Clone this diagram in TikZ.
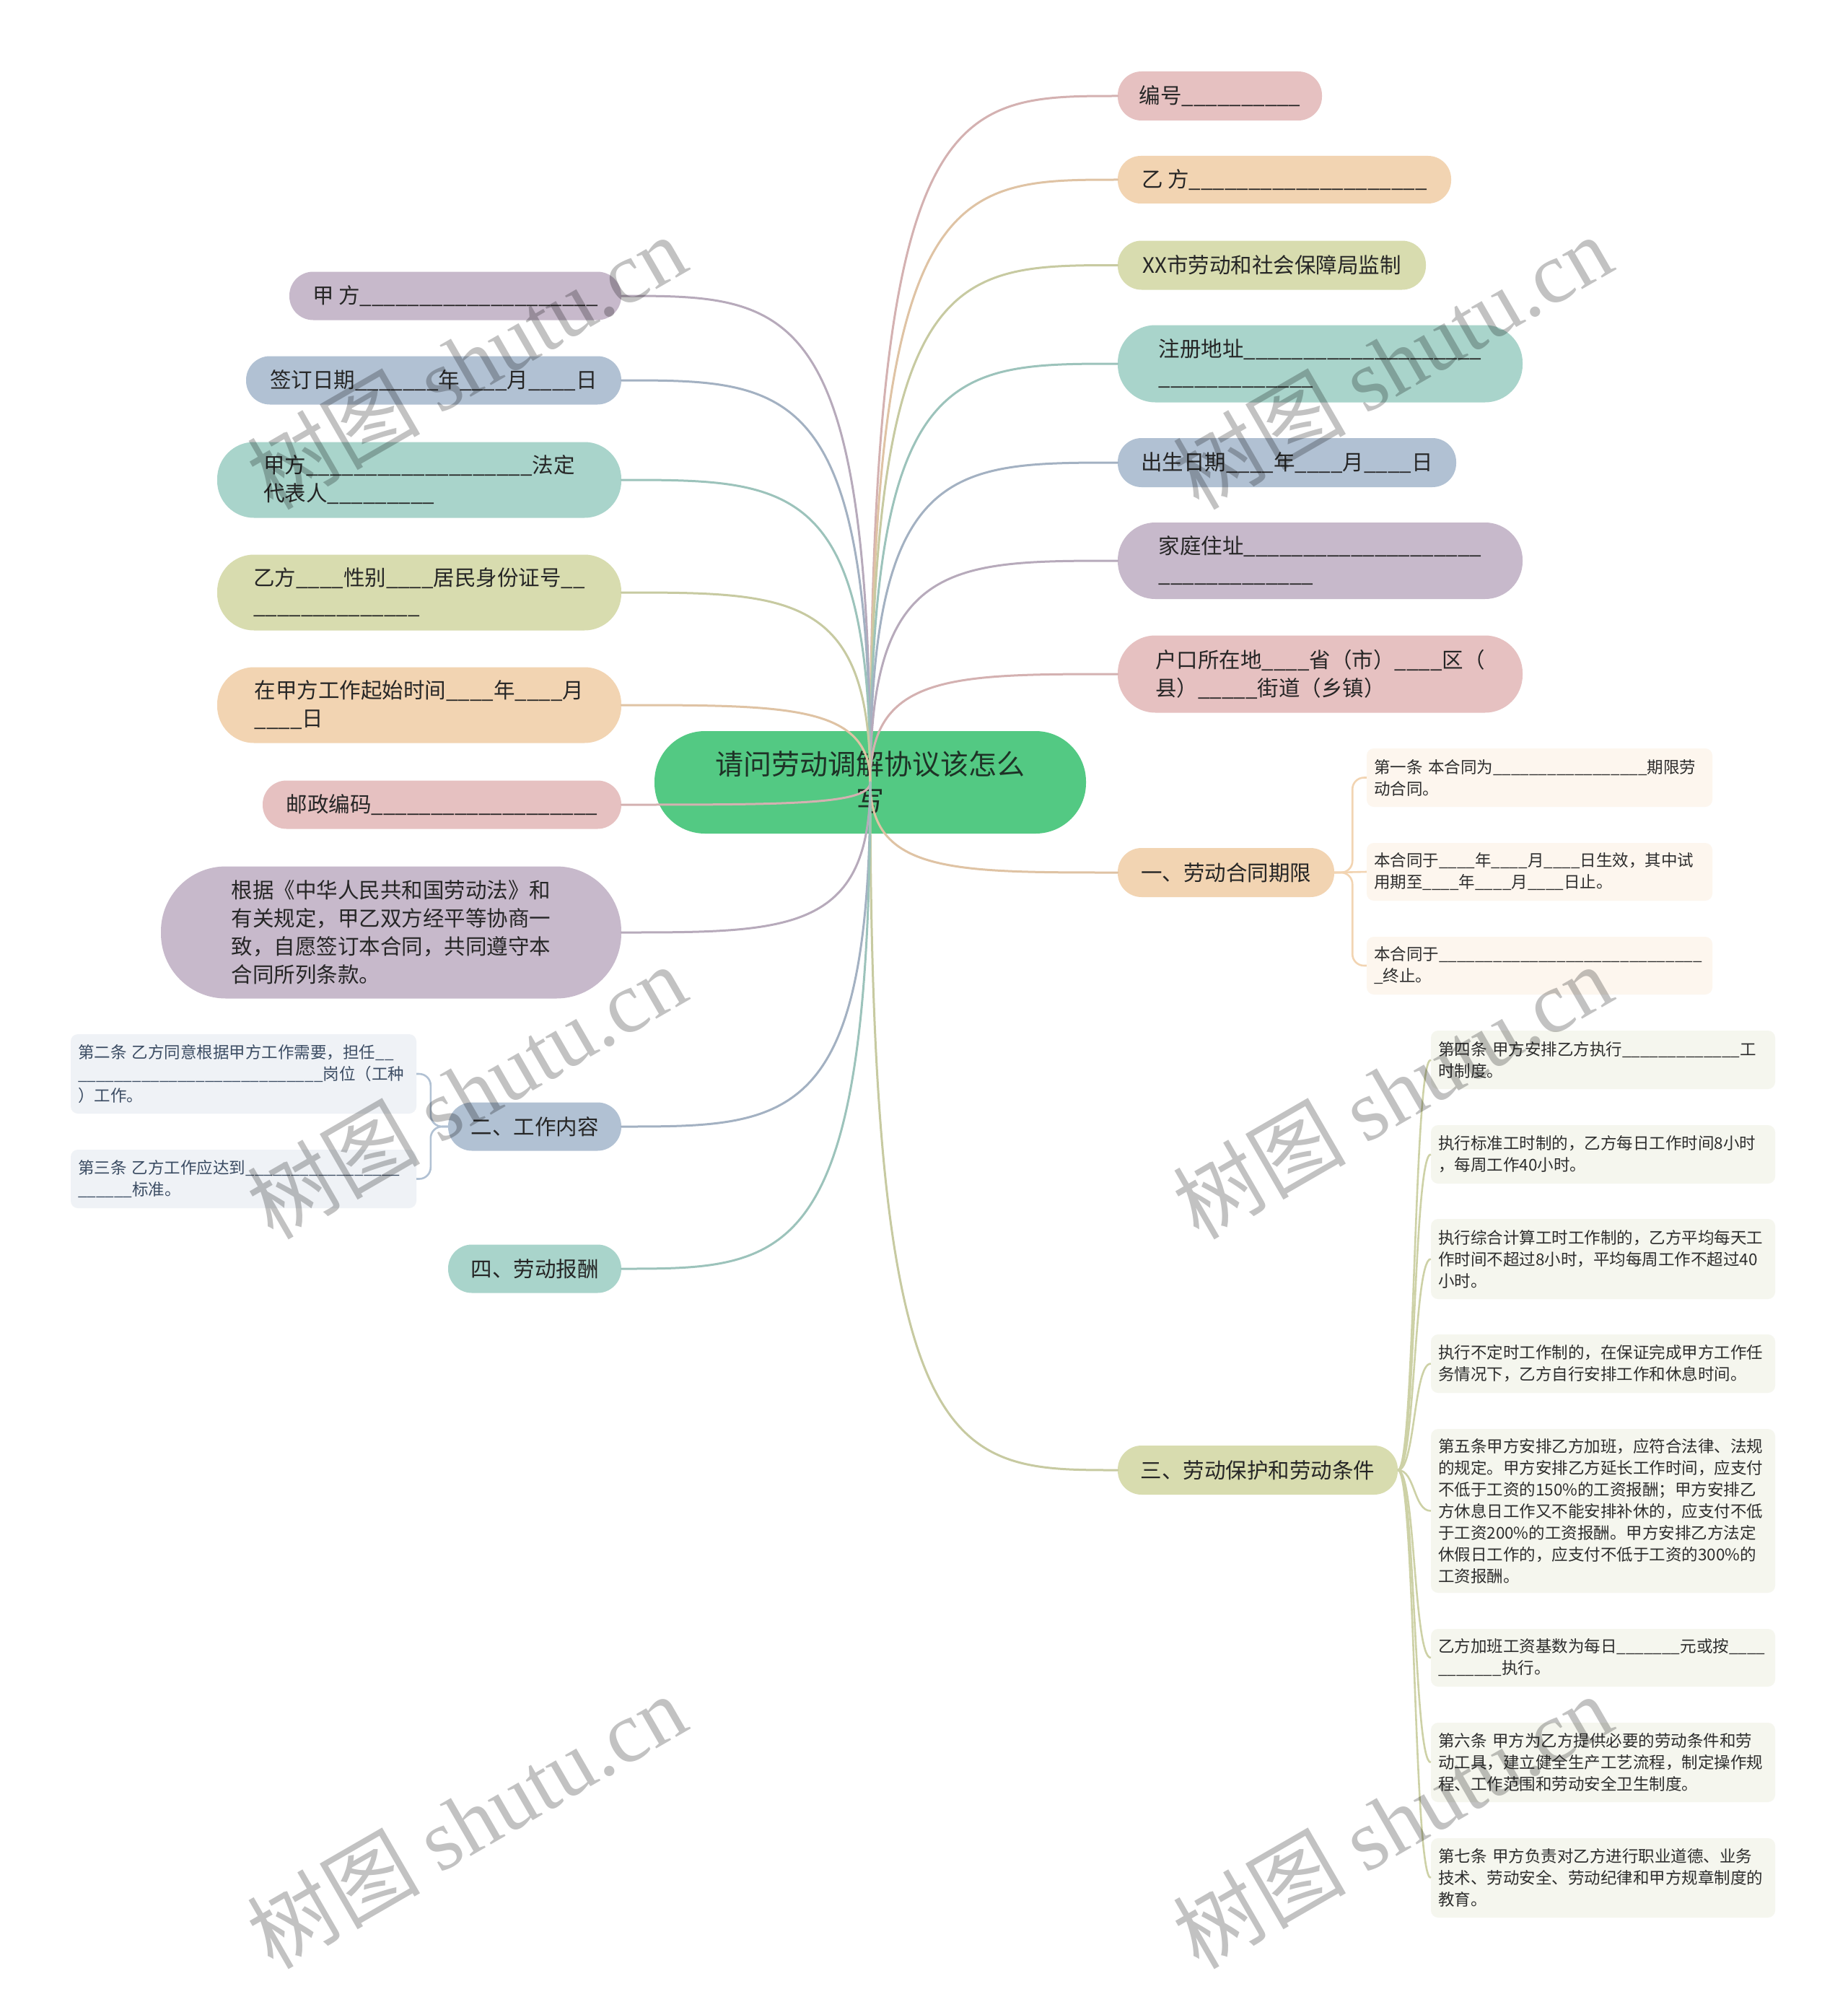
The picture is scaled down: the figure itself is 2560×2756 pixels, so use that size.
\documentclass[tikz,border=0pt]{standalone}
\usepackage{fontspec}
\setmainfont{Noto Sans CJK SC}
\newfontfamily\wmlatin{Liberation Serif}
\usetikzlibrary{calc}

\definecolor{cRoot}{RGB}{83,201,131}
\definecolor{cPink}{RGB}{230,193,193}
\definecolor{cPeach}{RGB}{242,212,178}
\definecolor{cOlive}{RGB}{216,220,175}
\definecolor{cTeal}{RGB}{169,212,203}
\definecolor{cBlue}{RGB}{177,193,211}
\definecolor{cLav}{RGB}{199,185,203}
\definecolor{cA}{RGB}{253,246,238}
\definecolor{cB}{RGB}{239,242,246}
\definecolor{cC}{RGB}{245,246,238}
\definecolor{tDark}{RGB}{38,38,38}
\definecolor{tMid}{RGB}{45,45,45}
\definecolor{tB}{RGB}{59,76,99}
\definecolor{tRoot}{RGB}{30,50,38}

\newcommand\lvfont{\fontsize{29.5}{39}\selectfont}
\newcommand\svfont{\fontsize{22.5}{30}\selectfont}
\newcommand\rtfont{\fontsize{39}{51}\selectfont}

\tikzset{
  l1/.style n args={4}{fill=#1, minimum width=#2, minimum height=#3, rounded corners=#4,
     inner sep=0pt, align=left, text=tDark, font=\lvfont},
  l2/.style 2 args={fill=#1, minimum height=#2, text width=459, inner xsep=10, inner ysep=0,
     rounded corners=10, align=left, font=\svfont, text=tMid},
  l2w/.style 2 args={fill=#1, minimum height=#2, text width=457, inner xsep=10, inner ysep=0,
     rounded corners=10, align=left, font=\svfont, text=tMid},
  rootbox/.style={fill=cRoot, minimum width=598, minimum height=142, rounded corners=70,
     inner sep=0pt, align=center, text=tRoot, font=\rtfont},
  conn/.style={line width=3, line cap=round},
  brk/.style={line width=2.6, rounded corners=16},
  scurve/.style={line width=2.6},
  wm/.style={font=\fontsize{120}{120}\selectfont, text=black, opacity=0.24, inner sep=0pt}
}

\newcommand\rconn[2]{\draw[conn,#2] (root.center) .. controls (root.center |- #1.west) and ($(root.center |- #1.west)!0.33!(#1.west)$) .. (#1.west);}
\newcommand\lconn[2]{\draw[conn,#2] (root.center) .. controls (root.center |- #1.east) and ($(root.center |- #1.east)!0.33!(#1.east)$) .. (#1.east);}

\begin{document}
\catcode`\_=12
\begin{tikzpicture}[x=1pt,y=-1pt]
\fill[white] (0,0) rectangle (2560,2756);
\useasboundingbox (0,0) rectangle (2560,2756);

% root
\node[rootbox] (root) at (1206,1084) {请问劳动调解协议该怎么\\写};

% right level 1
\node[l1={cPink}{283}{68}{33}] (r1) at (1690.5,133) {编号__________};
\node[l1={cPeach}{462}{66}{32}] (r2) at (1780,249) {乙 方____________________};
\node[l1={cOlive}{427}{68}{33}] (r3) at (1762.5,367.5) {XX市劳动和社会保障局监制};
\node[l1={cTeal}{561}{107}{52}] (r4) at (1829.5,504) {注册地址____________________\\_____________};
\node[l1={cBlue}{469}{68}{33}] (r5) at (1783.5,641) {出生日期____年____月____日};
\node[l1={cLav}{561}{106}{52}] (r6) at (1829.5,777) {家庭住址____________________\\_____________};
\node[l1={cPink}{561}{107}{52}] (r7) at (1829.5,934) {户口所在地____省（市）____区（\\县）_____街道（乡镇）};
\node[l1={cPeach}{300}{68}{33}] (r8) at (1699,1209) {一、劳动合同期限};
\node[l1={cOlive}{388}{68}{33}] (r9) at (1743,2037) {三、劳动保护和劳动条件};

% left level 1
\node[l1={cLav}{460}{67}{33}] (q1) at (631,410) {甲 方____________________};
\node[l1={cBlue}{520}{67}{33}] (q2) at (601,527) {签订日期_______年____月____日};
\node[l1={cTeal}{560}{105}{51}] (q3) at (581,665) {甲方___________________法定\\代表人_________};
\node[l1={cOlive}{560}{105}{51}] (q4) at (581,821) {乙方____性别____居民身份证号__\\______________};
\node[l1={cPeach}{560}{105}{51}] (q5) at (581,977) {在甲方工作起始时间____年____月\\____日};
\node[l1={cPink}{497}{67}{33}] (q6) at (612.5,1115) {邮政编码___________________};
\node[l1={cLav}{638}{183}{90}] (q7) at (542,1292) {根据《中华人民共和国劳动法》和\\有关规定，甲乙双方经平等协商一\\致，自愿签订本合同，共同遵守本\\合同所列条款。};
\node[l1={cBlue}{240}{67}{33}] (q8) at (741,1561) {二、工作内容};
\node[l1={cTeal}{240}{67}{33}] (q9) at (741,1758) {四、劳动报酬};

% level 2 under 一
\node[l2={cA}{81}] (a1) at (2133.5,1077.5) {第一条~本合同为_________________期限劳\\动合同。};
\node[l2={cA}{80}] (a2) at (2133.5,1208) {本合同于____年____月____日生效，其中试\\用期至____年____月____日止。};
\node[l2={cA}{80}] (a3) at (2133.5,1338) {本合同于_____________________________\\_终止。};

% level 2 under 二
\node[l2={cB}{110}, text=tB] (b1) at (337.5,1488) {第二条~乙方同意根据甲方工作需要，担任__\\___________________________岗位（工种\\）工作。};
\node[l2={cB}{81}, text=tB] (b2) at (337.5,1633.5) {第三条~乙方工作应达到_________________\\______标准。};

% level 2 under 三
\node[l2w={cC}{81}] (c1) at (2221.5,1468.5) {第四条~甲方安排乙方执行_____________工\\时制度。};
\node[l2w={cC}{81}] (c2) at (2221.5,1599.5) {执行标准工时制的，乙方每日工作时间8小时\\，每周工作40小时。};
\node[l2w={cC}{111}] (c3) at (2221.5,1744.5) {执行综合计算工时工作制的，乙方平均每天工\\作时间不超过8小时，平均每周工作不超过40\\小时。};
\node[l2w={cC}{81}] (c4) at (2221.5,1889.5) {执行不定时工作制的，在保证完成甲方工作任\\务情况下，乙方自行安排工作和休息时间。};
\node[l2w={cC}{227}] (c5) at (2221.5,2093.5) {第五条甲方安排乙方加班，应符合法律、法规\\的规定。甲方安排乙方延长工作时间，应支付\\不低于工资的150\%的工资报酬；甲方安排乙\\方休息日工作又不能安排补休的，应支付不低\\于工资200\%的工资报酬。甲方安排乙方法定\\休假日工作的，应支付不低于工资的300\%的\\工资报酬。};
\node[l2w={cC}{80}] (c6) at (2221.5,2297) {乙方加班工资基数为每日_______元或按____\\_______执行。};
\node[l2w={cC}{110}] (c7) at (2221.5,2442) {第六条~甲方为乙方提供必要的劳动条件和劳\\动工具，建立健全生产工艺流程，制定操作规\\程、工作范围和劳动安全卫生制度。};
\node[l2w={cC}{110}] (c8) at (2221.5,2602) {第七条~甲方负责对乙方进行职业道德、业务\\技术、劳动安全、劳动纪律和甲方规章制度的\\教育。};

% root connectors
\rconn{r1}{cPink!92!black}
\rconn{r2}{cPeach!92!black}
\rconn{r3}{cOlive!92!black}
\rconn{r4}{cTeal!92!black}
\rconn{r5}{cBlue!92!black}
\rconn{r6}{cLav!92!black}
\rconn{r7}{cPink!92!black}
\rconn{r8}{cPeach!92!black}
\rconn{r9}{cOlive!92!black}
\lconn{q1}{cLav!92!black}
\lconn{q2}{cBlue!92!black}
\lconn{q3}{cTeal!92!black}
\lconn{q4}{cOlive!92!black}
\lconn{q5}{cPeach!92!black}
\lconn{q6}{cPink!92!black}
\lconn{q7}{cLav!92!black}
\lconn{q8}{cBlue!92!black}
\lconn{q9}{cTeal!92!black}

% level 2 connectors
\draw[brk, cPeach] (r8.east) -- ++(25,0) |- (a1.west);
\draw[brk, cPeach] (r8.east) -- (a2.west);
\draw[brk, cPeach] (r8.east) -- ++(25,0) |- (a3.west);
\draw[brk, cBlue] (q8.west) -- ++(-24,0) |- (b1.east);
\draw[brk, cBlue] (q8.west) -- ++(-24,0) |- (b2.east);
\foreach \c in {c1,c2,c3,c4,c5,c6,c7,c8}{
  \draw[scurve, cOlive!95!black] (r9.east) .. controls +(24,0) and +(-24,0) .. (\c.west);
}

% watermark
\foreach \px/\py in {646/501, 1929/501, 646/1512, 1929/1512, 646/2523, 1929/2523}{
  \node[wm, rotate=30] at (\px,\py) {树图 {\wmlatin shutu.cn}};
}
\end{tikzpicture}
\end{document}
